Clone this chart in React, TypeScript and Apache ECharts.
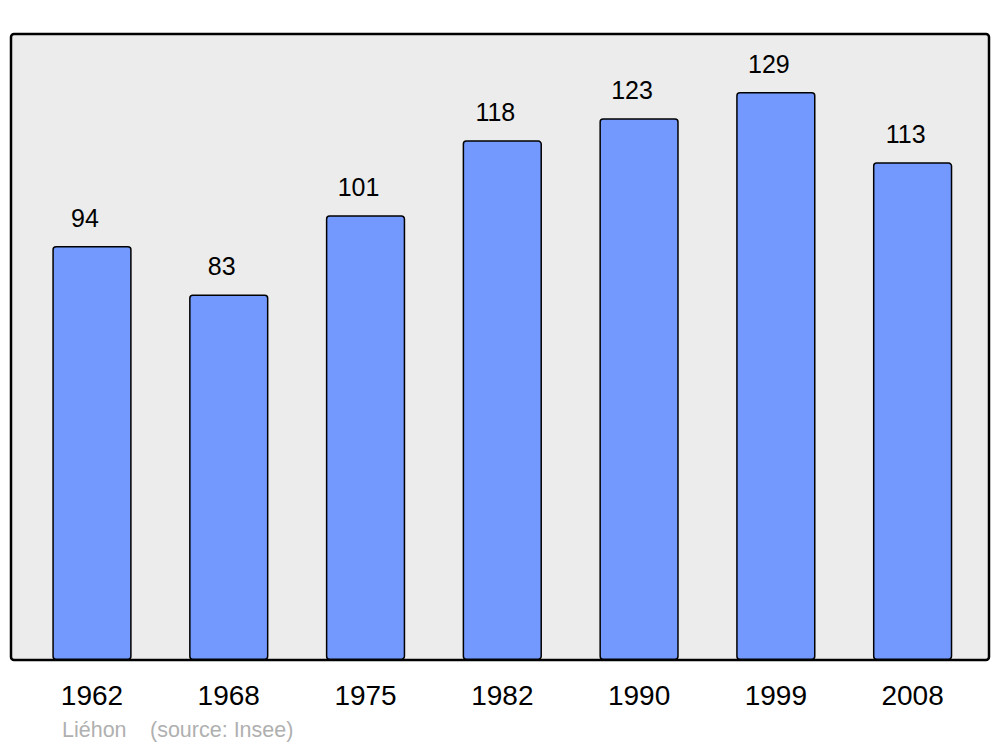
import React, { useEffect, useRef } from "react";
import * as echarts from "echarts";

const categories = ["1962", "1968", "1975", "1982", "1990", "1999", "2008"];
const population = [94, 83, 101, 118, 123, 129, 113];
const townName = "Liéhon";
const sourceText = "(source: Insee)";

export default function App() {
  const ref = useRef<HTMLDivElement>(null);
  useEffect(() => {
    const chart = echarts.init(ref.current!, null, { renderer: "svg" });
    chart.setOption({
      animation: false,
      backgroundColor: "#ffffff",
      textStyle: { fontFamily: "Liberation Sans, Arial, sans-serif" },
      grid: { left: 23.6, right: 19, top: 34, bottom: 87, containLabel: false },
      xAxis: {
        type: "category",
        data: categories,
        axisLine: { show: false },
        axisTick: { show: false },
        axisLabel: {
          color: "#000",
          fontSize: 28,
          margin: 21,
          fontFamily: "Liberation Sans, Arial, sans-serif",
        },
      },
      yAxis: {
        type: "value",
        min: 0,
        max: 142.15,
        show: false,
        splitLine: { show: false },
      },
      graphic: [
        {
          type: "rect",
          z: -10,
          silent: true,
          shape: { x: 11, y: 34, width: 978, height: 626, r: 3 },
          style: { fill: "#ececec", stroke: "#000", lineWidth: 2.5 },
        },
        {
          type: "text",
          x: 62,
          y: 730,
          style: {
            text: townName,
            fill: "#b0b0b0",
            fontSize: 21.5,
            fontFamily: "Liberation Sans, Arial, sans-serif",
            verticalAlign: "middle",
          },
        },
        {
          type: "text",
          x: 150,
          y: 730,
          style: {
            text: sourceText,
            fill: "#b0b0b0",
            fontSize: 21.5,
            fontFamily: "Liberation Sans, Arial, sans-serif",
            verticalAlign: "middle",
          },
        },
      ],
      series: [
        {
          type: "bar",
          data: population,
          barWidth: "58%",
          itemStyle: {
            color: "#7399ff",
            borderColor: "#000",
            borderWidth: 1.5,
            borderRadius: 3,
          },
          label: {
            show: true,
            position: "top",
            distance: 15.5,
            offset: [-7, 0],
            color: "#000",
            fontSize: 25,
            fontFamily: "Liberation Sans, Arial, sans-serif",
          },
        },
      ],
    });
    return () => chart.dispose();
  }, []);
  return <div ref={ref} style={{ width: 1000, height: 747, position: "absolute", left: 0, top: 0 }} />;
}
